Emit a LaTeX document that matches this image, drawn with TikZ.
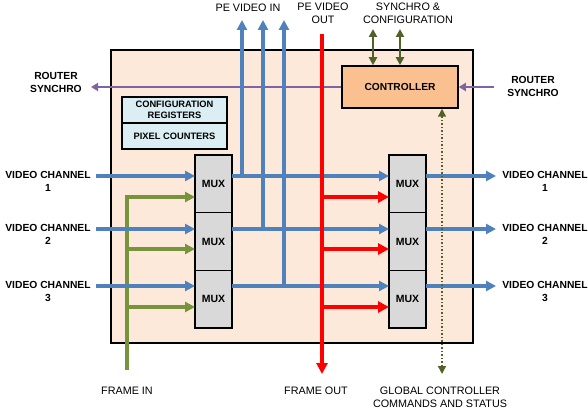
\documentclass[tikz,border=0pt]{standalone}
\usepackage{fontspec}
\setmainfont{Liberation Sans}
\usetikzlibrary{arrows.meta,positioning}
\definecolor{vidblue}{HTML}{4F81BD}
\definecolor{framegreen}{HTML}{77933C}
\definecolor{ctrlgreen}{HTML}{4F6228}
\definecolor{syncpurple}{HTML}{8064A2}
\definecolor{chipfill}{HTML}{FDE9D9}
\definecolor{ctrlfill}{HTML}{FAC090}
\definecolor{regfill}{HTML}{DAEEF3}
\definecolor{muxfill}{HTML}{D9D9D9}
\tikzset{
  txt/.style={font=\fontsize{10.8}{13}\selectfont, align=center, inner sep=0pt},
  side/.style={txt, font=\fontsize{10.3}{13}\selectfont\bfseries},
  chipbox/.style={draw=black, line width=2pt, fill=chipfill, minimum width=362pt, minimum height=293pt},
  ctrlbox/.style={draw=black, line width=1.5pt, fill=ctrlfill, minimum width=116pt, minimum height=42pt, font=\fontsize{10.2}{12}\selectfont\bfseries},
  regbox/.style={draw=black, line width=1.5pt, fill=regfill, minimum width=105pt, minimum height=26pt, outer sep=0pt, align=center, inner sep=1pt, font=\fontsize{9.3}{11}\selectfont\bfseries},
  muxbox/.style={draw=black, line width=1.5pt, fill=muxfill, minimum width=37pt, minimum height=57.7pt, outer sep=0pt, font=\fontsize{10.5}{12}\selectfont\bfseries},
  vid/.style={vidblue, line width=4pt, -{Triangle[length=10pt,width=10pt]}},
  frin/.style={framegreen, line width=4pt, -{Triangle[length=10pt,width=10pt]}},
  frout/.style={red, line width=4.5pt, -{Triangle[length=11pt,width=11pt]}},
  sync/.style={syncpurple, line width=2.5pt, -{Triangle[length=7pt,width=8pt]}},
  cfg/.style={ctrlgreen, line width=2pt, {Triangle[length=8pt,width=8pt]}-{Triangle[length=8pt,width=8pt]}},
  glob/.style={ctrlgreen, line width=1.5pt, dotted, {Triangle[length=8pt,width=8pt]}-{Triangle[length=8pt,width=8pt]}}
}
\begin{document}
\begin{tikzpicture}[x=1pt,y=-1pt]
\useasboundingbox (0,0) rectangle (588,419);
% blocks
\node[chipbox] (chip) at (292,196.5) {};
\node[ctrlbox] (ctrl) at (400,87) {CONTROLLER};
\node[regbox] (cfgreg) at (174.5,110) {CONFIGURATION\\REGISTERS};
\node[regbox, below=0pt of cfgreg] (pixcnt) {PIXEL COUNTERS};
\node[muxbox] (lm1) at (213.5,183.8) {MUX};
\node[muxbox, below=0pt of lm1] (lm2) {MUX};
\node[muxbox, below=0pt of lm2] (lm3) {MUX};
\node[muxbox] (rm1) at (407.5,183.8) {MUX};
\node[muxbox, below=0pt of rm1] (rm2) {MUX};
\node[muxbox, below=0pt of rm2] (rm3) {MUX};
% labels
\node[side] (lvi1) at (48,181.5) {VIDEO CHANNEL\\1};
\node[side] (lvi2) at (48,234.5) {VIDEO CHANNEL\\2};
\node[side] (lvi3) at (48,291.5) {VIDEO CHANNEL\\3};
\node[side] (lvo1) at (545,181.5) {VIDEO CHANNEL\\1};
\node[side] (lvo2) at (545,234.5) {VIDEO CHANNEL\\2};
\node[side] (lvo3) at (545,291.5) {VIDEO CHANNEL\\3};
\node[side] (lrsl) at (56,82) {ROUTER\\SYNCHRO};
\node[side] (lrsr) at (533,86.5) {ROUTER\\SYNCHRO};
\node[txt] (lpin) at (248,7.5) {PE VIDEO IN};
\node[txt] (lpout) at (323,13.5) {PE VIDEO\\OUT};
\node[txt] (lsc) at (408,13.5) {SYNCHRO \&\\CONFIGURATION};
\node[txt] (lfin) at (127,391) {FRAME IN};
\node[txt] (lfout) at (316,391) {FRAME OUT};
\node[txt] (lgcc) at (440,397.5) {GLOBAL CONTROLLER\\COMMANDS AND STATUS};
% connector ends
\coordinate (vi1) at (96,176);
\coordinate (vi2) at (96,229);
\coordinate (vi3) at (96,286);
\coordinate (vo1) at (496,176);
\coordinate (vo2) at (496,229);
\coordinate (vo3) at (496,286);
\coordinate (fr1) at (127,197);
\coordinate (fr2) at (127,249);
\coordinate (fr3) at (127,307);
\coordinate (fin) at (127,370);
\coordinate (pin1) at (242,20);
\coordinate (pin2) at (263,20);
\coordinate (pin3) at (284,20);
\coordinate (pout) at (322,34);
\coordinate (fout) at (322,374);
\coordinate (sc1) at (373,29);
\coordinate (sc2) at (400,29);
\coordinate (rsl) at (91,87);
\coordinate (rsr) at (494,87);
\coordinate (gcc) at (442,374);
% router synchro
\draw[sync] (ctrl.west) -- (rsl);
\draw[sync] (rsr) -- (ctrl.east);
% frame in
\draw[frin] (fin) |- (lm1.west |- fr1);
\draw[frin] (fin |- fr2) -- (lm2.west |- fr2);
\draw[frin] (fin |- fr3) -- (lm3.west |- fr3);
% video
\draw[vid] (vi1) -- (lm1.west |- vi1);
\draw[vid] (vi2) -- (lm2.west |- vi2);
\draw[vid] (vi3) -- (lm3.west |- vi3);
\draw[vid] (lm1.east |- vi1) -- (rm1.west |- vi1);
\draw[vid] (lm2.east |- vi2) -- (rm2.west |- vi2);
\draw[vid] (lm3.east |- vi3) -- (rm3.west |- vi3);
\draw[vid] (pin1 |- vi1) -- (pin1);
\draw[vid] (pin2 |- vi2) -- (pin2);
\draw[vid] (pin3 |- vi3) -- (pin3);
\draw[vid] (rm1.east |- vi1) -- (vo1);
\draw[vid] (rm2.east |- vi2) -- (vo2);
\draw[vid] (rm3.east |- vi3) -- (vo3);
% frame out
\draw[frout] (pout) -- (fout);
\draw[frout] (pout |- fr1) -- (rm1.west |- fr1);
\draw[frout] (pout |- fr2) -- (rm2.west |- fr2);
\draw[frout] (pout |- fr3) -- (rm3.west |- fr3);
% controller
\draw[cfg] (sc1) -- (ctrl.north -| sc1);
\draw[cfg] (sc2) -- (ctrl.north -| sc2);
\draw[glob] (gcc) -- (ctrl.south -| gcc);
\end{tikzpicture}
\end{document}
